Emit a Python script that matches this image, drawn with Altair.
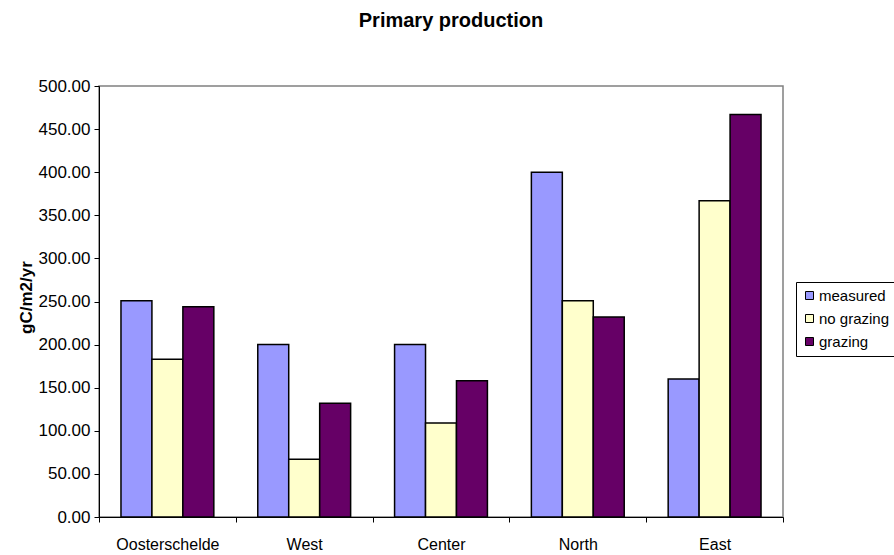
import altair as alt
import pandas as pd

categories = ["Oosterschelde", "West", "Center", "North", "East"]
series = ["measured", "no grazing", "grazing"]
measured = [251, 200, 200, 400, 160]
no_grazing = [183, 67, 109, 251, 367]
grazing = [244, 132, 158, 232, 467]
colors = ["#9999FF", "#FFFFCC", "#660066"]
y_ticks = [0, 50, 100, 150, 200, 250, 300, 350, 400, 450, 500]

rows = []
for s, vals in zip(series, [measured, no_grazing, grazing]):
    for c, v in zip(categories, vals):
        rows.append({"region": c, "series": s, "value": v})
df = pd.DataFrame(rows)

FONT = "Liberation Sans"

chart = alt.Chart(df).mark_bar(stroke="black", strokeWidth=1.5).encode(
    x=alt.X("region:N", sort=categories,
            scale=alt.Scale(paddingInner=0, paddingOuter=0),
            axis=alt.Axis(title=None, labelAngle=0, tickBand="extent",
                          labelFont=FONT, labelFontSize=16, labelColor="black",
                          labelPadding=14, domainColor="black", tickColor="black",
                          tickSize=5, grid=False)),
    xOffset=alt.XOffset("series:N", sort=series,
                        scale=alt.Scale(paddingInner=0, paddingOuter=0.71)),
    y=alt.Y("value:Q", scale=alt.Scale(domain=[0, 500], nice=False),
            axis=alt.Axis(title="gC/m2/yr", format=".2f", values=y_ticks,
                          labelFont=FONT, labelFontSize=17, labelColor="black",
                          labelPadding=4, domainColor="black", tickColor="black",
                          tickSize=5, grid=False,
                          titleFont=FONT, titleFontSize=17, titleFontWeight="bold",
                          titleColor="black", titleAngle=-90, titleAlign="center",
                          titleBaseline="middle", titleX=-73, titleY=211)),
    color=alt.Color("series:N", sort=series,
                    scale=alt.Scale(domain=series, range=colors),
                    legend=alt.Legend(title=None, orient="none", legendX=697, legendY=196,
                                      padding=6, strokeColor="black", fillColor="white",
                                      symbolType="square", symbolSize=64,
                                      symbolStrokeColor="black", symbolStrokeWidth=1,
                                      labelFont=FONT, labelFontSize=15, labelColor="black",
                                      rowPadding=7, labelOffset=2)),
).properties(
    width=684, height=431,
    title=alt.TitleParams("Primary production", font=FONT, fontSize=20, fontWeight="bold",
                          color="black", anchor="middle", frame="group", dx=10, offset=46),
    autosize=alt.AutoSizeParams(type="none"),
    padding={"left": 99, "top": 86, "right": 111, "bottom": 38},
).configure_view(stroke="#808080", strokeWidth=1.5)

chart.save("out.html", embed_options={"renderer": "svg", "actions": False})
